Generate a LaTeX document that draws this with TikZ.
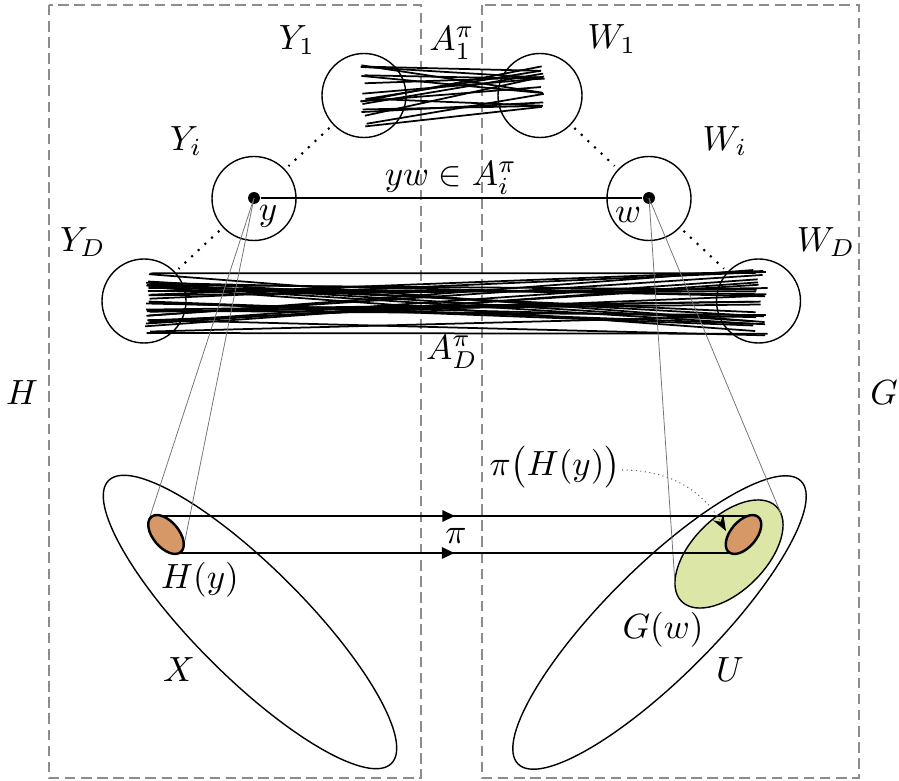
\documentclass[tikz,border=0pt]{standalone}
\usetikzlibrary{shapes.geometric,arrows.meta,decorations.markings}
\definecolor{horange}{RGB}{214,152,102}
\definecolor{ggreen}{RGB}{220,230,166}
\tikzset{
  setc/.style={circle,draw,minimum size=24pt,inner sep=0pt,outer sep=0pt,line width=0.4pt},
  frame/.style={draw=black!45,dash pattern=on 3pt off 1.6pt,line width=0.6pt},
  dotc/.style={dotted,line width=0.6pt,shorten >=1.5pt,shorten <=1.5pt},
  bundle/.style={line width=0.5pt},
  tang/.style={line width=0.22pt,black!55},
  vert/.style={circle,fill,inner sep=0pt,minimum size=3.4pt},
  lab/.style={inner sep=0pt},
  bigell/.style={ellipse,draw,line width=0.4pt,minimum width=114.3pt,minimum height=31.4pt,inner sep=0pt,outer sep=0pt},
  smallell/.style={ellipse,draw,fill=horange,line width=0.7pt,minimum width=13.1pt,minimum height=7.4pt,inner sep=0pt,outer sep=0pt},
  piarrow/.style={semithick,postaction={decorate},decoration={markings,mark=at position 0.5 with {\arrow{Triangle[length=3.6pt,width=3.2pt]}}}},
}
\begin{document}
\begin{tikzpicture}[x=0.2857pt,y=-0.2857pt]
\useasboundingbox (0,0) rectangle (899,781);
% frames
\draw[frame] (49,5) rectangle (421,778);
\draw[frame] (482,5) rectangle (859,778);
% circles
\node[setc] (Y1) at (364,95.5) {};
\node[setc] (W1) at (540,95.5) {};
\node[setc] (Yi) at (254,198.5) {};
\node[setc] (Wi) at (649,198.5) {};
\node[setc] (YD) at (144,301) {};
\node[setc] (WD) at (758.5,301) {};
% dotted links
\draw[dotc] (Y1) -- (Yi);
\draw[dotc] (Yi) -- (YD);
\draw[dotc] (W1) -- (Wi);
\draw[dotc] (Wi) -- (WD);
% bundles
\pgfmathsetseed{11}
\foreach \k in {1,...,17}{
  \pgfmathsetmacro\xa{360+8*rnd}
  \pgfmathsetmacro\ya{62+68*rnd}
  \pgfmathsetmacro\xb{540+5*rnd}
  \pgfmathsetmacro\yb{62+65*rnd}
  \draw[bundle] (\xa,\ya) -- (\xb,\yb);
}
\foreach \k in {1,...,30}{
  \pgfmathsetmacro\xa{145+6*rnd}
  \pgfmathsetmacro\ya{273+61*rnd}
  \pgfmathsetmacro\xb{753+15*rnd}
  \pgfmathsetmacro\yb{269+68*rnd}
  \draw[bundle] (\xa,\ya) -- (\xb,\yb);
}
% vertices y, w
\node[vert] (yv) at (254,198) {};
\node[vert] (wv) at (649,198) {};
\draw (yv) -- (wv);
% labels top
\node[lab] (lY1) at (297,40) {$Y_1$};
\node[lab] (lW1) at (612,39) {$W_1$};
\node[lab] (lA1) at (452,43) {$A_1^{\pi}$};
\node[lab] (lYi) at (186,141) {$Y_i$};
\node[lab] (lWi) at (725,141) {$W_i$};
\node[lab] (lyw) at (451,178) {$yw \in A_i^{\pi}$};
\node[lab] (ly) at (268,216) {$y$};
\node[lab] (lw) at (628,215) {$w$};
\node[lab] (lYD) at (83,242) {$Y_D$};
\node[lab] (lWD) at (826,242) {$W_D$};
\node[lab] (lAD) at (452,352) {$A_D^{\pi}$};
\node[lab] (lH) at (22,393) {$H$};
\node[lab] (lG) at (884,393) {$G$};
% bottom ellipses
\node[ellipse,fill=ggreen,draw,line width=0.4pt,minimum width=38.3pt,minimum height=21pt,inner sep=0pt,rotate=45] (Gw) at (729,554) {};
\node[bigell,rotate=-45] (X) at (250,622) {};
\node[bigell,rotate=45] (U) at (659.5,622.5) {};
% tangent lines
\coordinate (t1) at (148.7,520.6);
\coordinate (t2) at (183.6,547.2);
\coordinate (t3) at (780.9,513.5);
\coordinate (t4) at (675.1,585.5);
\draw[tang] (yv.center) -- (t1);
\draw[tang] (yv.center) -- (t2);
\draw[tang] (wv.center) -- (t3);
\draw[tang] (wv.center) -- (t4);
% pi lines
\coordinate (hTop) at (157,516);
\coordinate (hBot) at (175,553);
\coordinate (pTop) at (753,516);
\coordinate (pBot) at (734,553);
\draw[piarrow] (hTop) -- (pTop);
\draw[piarrow] (hBot) -- (pBot);
\node[smallell,rotate=-50] (Hy) at (166,534.5) {};
\node[smallell,rotate=50] (piHy) at (743.5,534.5) {};
\node[lab] (lpi) at (456,536) {$\pi$};
% bottom labels
\node[lab] (lHy) at (200,580) {$H(y)$};
\node[lab] (lX) at (179,670) {$X$};
\node[lab] (lpiH) at (555,467) {$\pi\big(H(y)\big)$};
\node[lab] (lGw) at (663,630) {$G(w)$};
\node[lab] (lU) at (730,670) {$U$};
\coordinate (hit) at (726,531);
\draw[densely dotted,black!60,line width=0.3pt,-{Stealth[length=4.5pt,width=3.4pt,black]}] (lpiH.east) ++(1,3) to[out=0,in=120] (hit);
\end{tikzpicture}
\end{document}
